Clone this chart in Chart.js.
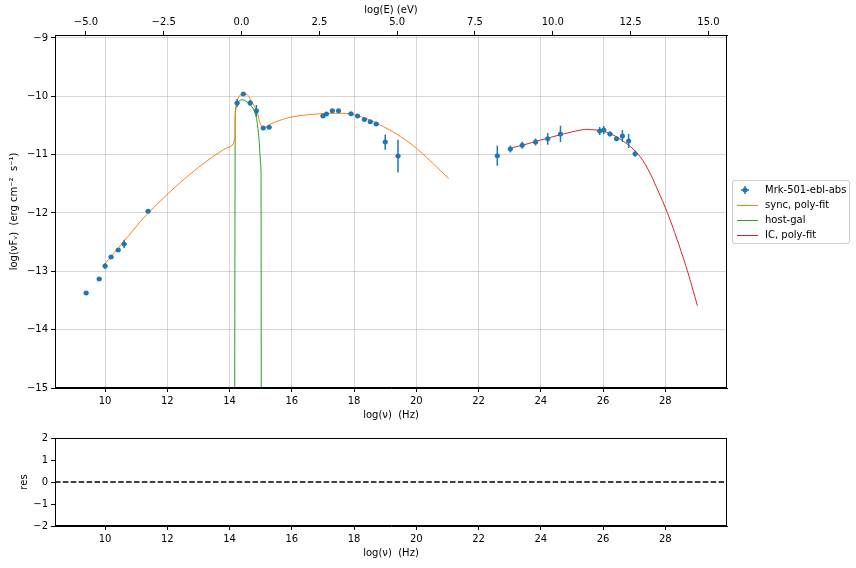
<!DOCTYPE html>
<html>
<head>
<meta charset="utf-8">
<script src="https://cdn.jsdelivr.net/npm/chart.js@4/dist/chart.umd.min.js"></script>
<style>
  body { margin: 0; background: #fff; }
  #wrap { position: relative; width: 856px; height: 568px; font-family: 'DejaVu Sans', sans-serif; }
  #main { position: absolute; left: 0; top: 0; }
  #res { position: absolute; left: 0; top: 421px; }
  #legend {
    position: absolute; left: 732px; top: 180px; width: 116px; height: 62px;
    border: 1px solid #cccccc; border-radius: 3px; background: rgba(255,255,255,0.8);
    font-size: 10px; color: #000;
  }
  .row { position: absolute; left: 3px; height: 14px; line-height: 14px; white-space: nowrap; }
  .row svg { position: absolute; left: 0; top: 0; }
  .row span { position: absolute; left: 29px; top: 0; }
</style>
</head>
<body>
<div id="wrap">
  <canvas id="main" width="856" height="421" style="width:856px;height:421px"></canvas>
  <canvas id="res" width="856" height="147" style="width:856px;height:147px"></canvas>
  <div id="legend"></div>
</div>
<script>
// axis limits
const X_MIN = 8.39;
const X_MAX = 29.98;
const Y_MIN = -15;
const Y_MAX = -8.95;
const LOG_H_EV = 14.383; // log(nu) - 14.383 = log(E/eV)

// tick labels
const xTicks = [10, 12, 14, 16, 18, 20, 22, 24, 26, 28];
const eTicks = [-5, -2.5, 0, 2.5, 5, 7.5, 10, 12.5, 15];
const yTicks = [-15, -14, -13, -12, -11, -10, -9];
const resTicks = [-2, -1, 0, 1, 2];

// observed SED (Mrk-501-ebl-abs)
const nuObs = [9.39, 9.81, 10.0, 10.19, 10.42, 10.61, 11.38, 14.24, 14.44, 14.66, 14.86, 15.08, 15.27,
  17.0, 17.11, 17.3, 17.5, 17.9, 18.11, 18.33, 18.52, 18.71, 19.0, 19.41,
  22.6, 23.02, 23.4, 23.83, 24.22, 24.63, 25.89, 26.02, 26.22, 26.43, 26.62, 26.82, 27.03];
const fluxObs = [-13.37, -13.13, -12.91, -12.755, -12.635, -12.53, -11.97, -10.115, -9.96, -10.115, -10.25, -10.545, -10.53,
  -10.34, -10.305, -10.25, -10.25, -10.3, -10.34, -10.4, -10.435, -10.475, -10.785, -11.025,
  -11.02, -10.905, -10.84, -10.785, -10.73, -10.645, -10.595, -10.58, -10.645, -10.73, -10.68, -10.765, -10.985];
const fluxErr = [0.02, 0.02, 0.05, 0.03, 0.03, 0.07, 0.02, 0.07, 0.03, 0.05, 0.1, 0.03, 0.03,
  0.03, 0.03, 0.03, 0.03, 0.03, 0.03, 0.03, 0.03, 0.03, 0.13, 0.28,
  0.17, 0.06, 0.06, 0.06, 0.1, 0.14, 0.07, 0.07, 0.04, 0.04, 0.1, 0.12, 0.05];
const nuErr = [0.08, 0.08, 0.08, 0.08, 0.08, 0.08, 0.08, 0.08, 0.08, 0.08, 0.08, 0.08, 0.08,
  0.08, 0.08, 0.08, 0.08, 0.08, 0.08, 0.08, 0.08, 0.08, 0.08, 0.08,
  0.08, 0.08, 0.08, 0.08, 0.08, 0.08, 0.08, 0.08, 0.08, 0.08, 0.08, 0.08, 0.08];

// sync, poly-fit
const syncNu = [10.0, 10.6, 11.13, 11.39, 12.04, 12.73, 13.27, 13.8, 14.12, 14.18, 14.24, 14.34, 14.5, 14.66, 14.77,
  14.88, 14.98, 15.09, 15.3, 15.6, 16.0, 16.5, 17.0, 17.4, 17.88, 18.42, 18.94, 19.49, 20.04, 21.04];
const syncFlux = [-12.87, -12.49, -12.15, -12.0, -11.66, -11.335, -11.11, -10.915, -10.81, -10.35, -10.09, -9.98, -9.95, -10.04, -10.15,
  -10.26, -10.46, -10.54, -10.48, -10.415, -10.355, -10.318, -10.298, -10.293, -10.305, -10.39, -10.52, -10.69, -10.91, -11.41];

// host-gal
const hostNu = [14.16, 14.18, 14.25, 14.4, 14.61, 14.8, 14.91, 14.98, 15.01, 15.02];
const hostFlux = [-30, -10.29, -10.12, -10.06, -10.12, -10.26, -10.55, -11.04, -11.35, -30];

// IC, poly-fit
const icNu = [22.99, 23.4, 24.2, 25.27, 25.6, 26.13, 26.67, 27.1, 27.42, 27.74, 28.06, 28.38, 28.7, 29.03];
const icFlux = [-10.89, -10.84, -10.72, -10.58, -10.57, -10.62, -10.78, -10.98, -11.23, -11.59, -11.99, -12.46, -12.98, -13.59];

// residuals (none plotted), zero line only
const resNu = [X_MIN, X_MAX];
const resZero = [0, 0];

const pts = (xs, ys) => xs.map((x, i) => ({ x: x, y: ys[i] }));
const minus = v => String(v).replace('-', '\u2212');

Chart.defaults.font.family = "'DejaVu Sans', sans-serif";
Chart.defaults.font.size = 10;
Chart.defaults.color = '#000';

const gridCol = 'rgba(176,176,176,0.5)';

// error bars for the observed points
const errorBars = {
  id: 'errorBars',
  afterDatasetsDraw(chart) {
    const { ctx, scales: { x, y } } = chart;
    ctx.save();
    ctx.beginPath();
    ctx.rect(chart.chartArea.left, chart.chartArea.top, chart.chartArea.width, chart.chartArea.height);
    ctx.clip();
    ctx.strokeStyle = '#1f77b4';
    ctx.lineWidth = 1.5;
    nuObs.forEach((nu, i) => {
      const px = x.getPixelForValue(nu);
      const py = y.getPixelForValue(fluxObs[i]);
      ctx.beginPath();
      ctx.moveTo(px, y.getPixelForValue(fluxObs[i] - fluxErr[i]));
      ctx.lineTo(px, y.getPixelForValue(fluxObs[i] + fluxErr[i]));
      ctx.moveTo(x.getPixelForValue(nu - nuErr[i]), py);
      ctx.lineTo(x.getPixelForValue(nu + nuErr[i]), py);
      ctx.stroke();
    });
    ctx.restore();
  }
};

// box around the plotting area
const frame = {
  id: 'frame',
  afterDraw(chart) {
    const a = chart.chartArea;
    const ctx = chart.ctx;
    ctx.save();
    ctx.strokeStyle = '#000';
    ctx.lineWidth = 1;
    ctx.strokeRect(Math.round(a.left) + 0.5, Math.round(a.top) + 0.5, Math.round(a.width) - 1, Math.round(a.height) - 1);
    ctx.restore();
  }
};

const mainChart = new Chart(document.getElementById('main'), {
  type: 'scatter',
  data: {
    datasets: [
      {
        label: 'Mrk-501-ebl-abs',
        data: pts(nuObs, fluxObs),
        backgroundColor: '#1f77b4',
        borderColor: '#1f77b4',
        pointRadius: 2.5,
        pointHoverRadius: 2.5,
        borderWidth: 0
      },
      {
        label: 'sync, poly-fit',
        data: pts(syncNu, syncFlux),
        showLine: true,
        borderColor: '#ff7f0e',
        borderWidth: 1,
        pointRadius: 0,
        tension: 0.4
      },
      {
        label: 'host-gal',
        data: pts(hostNu, hostFlux),
        showLine: true,
        borderColor: '#2ca02c',
        borderWidth: 1,
        pointRadius: 0,
        tension: 0.4
      },
      {
        label: 'IC, poly-fit',
        data: pts(icNu, icFlux),
        showLine: true,
        borderColor: '#d62728',
        borderWidth: 1,
        pointRadius: 0,
        tension: 0.4
      }
    ]
  },
  options: {
    responsive: false,
    animation: false,
    devicePixelRatio: 1,
    layout: { padding: { left: 0, right: 129, top: 0, bottom: 0 } },
    plugins: { legend: { display: false }, tooltip: { enabled: false } },
    scales: {
      x: {
        type: 'linear', position: 'bottom', min: X_MIN, max: X_MAX,
        afterBuildTicks: s => { s.ticks = xTicks.map(v => ({ value: v })); },
        afterFit: s => { s.height = 33; },
        ticks: { autoSkip: false, maxRotation: 0, padding: 3, callback: v => minus(v) },
        grid: { color: gridCol, tickColor: '#000', tickLength: 4 },
        border: { color: '#000' },
        title: { display: true, text: 'log(\u03bd)  (Hz)', padding: 0 }
      },
      xTop: {
        type: 'linear', position: 'top', min: X_MIN - LOG_H_EV, max: X_MAX - LOG_H_EV,
        afterBuildTicks: s => { s.ticks = eTicks.map(v => ({ value: v })); },
        afterFit: s => { s.height = 35; },
        ticks: { autoSkip: false, maxRotation: 0, padding: 3, callback: v => minus(v.toFixed(1)) },
        grid: { drawOnChartArea: false, tickColor: '#000', tickLength: 4 },
        border: { color: '#000' },
        title: { display: true, text: 'log(E) (eV)', padding: { top: 4, bottom: 0 } }
      },
      y: {
        type: 'linear', min: Y_MIN, max: Y_MAX,
        afterBuildTicks: s => { s.ticks = yTicks.map(v => ({ value: v })); },
        afterFit: s => { s.width = 55; },
        ticks: { autoSkip: false, padding: 3, callback: v => minus(v) },
        grid: { color: gridCol, tickColor: '#000', tickLength: 4 },
        border: { color: '#000' },
        title: { display: true, text: 'log(\u03bdF\u1d65)  (erg cm\u207b\u00b2  s\u207b\u00b9)', padding: { top: 8, bottom: 0 } }
      }
    }
  },
  plugins: [errorBars, frame]
});

new Chart(document.getElementById('res'), {
  type: 'scatter',
  data: {
    datasets: [{
      label: 'res',
      data: pts(resNu, resZero),
      showLine: true,
      borderColor: '#000',
      borderWidth: 1.5,
      borderDash: [5.5, 2.4],
      pointRadius: 0
    }]
  },
  options: {
    responsive: false,
    animation: false,
    devicePixelRatio: 1,
    layout: { padding: { left: 0, right: 129, top: 17, bottom: 9 } },
    plugins: { legend: { display: false }, tooltip: { enabled: false } },
    scales: {
      x: {
        type: 'linear', min: X_MIN, max: X_MAX,
        afterBuildTicks: s => { s.ticks = xTicks.map(v => ({ value: v })); },
        afterFit: s => { s.height = 33; },
        ticks: { autoSkip: false, maxRotation: 0, padding: 3, callback: v => minus(v) },
        grid: { drawOnChartArea: false, tickColor: '#000', tickLength: 4 },
        border: { color: '#000' },
        title: { display: true, text: 'log(\u03bd)  (Hz)', padding: 0 }
      },
      y: {
        type: 'linear', min: -2, max: 2,
        afterBuildTicks: s => { s.ticks = resTicks.map(v => ({ value: v })); },
        afterFit: s => { s.width = 55; },
        ticks: { autoSkip: false, padding: 3, callback: v => minus(v) },
        grid: { drawOnChartArea: false, tickColor: '#000', tickLength: 4 },
        border: { color: '#000' },
        title: { display: true, text: 'res', padding: { top: 18, bottom: 0 } }
      }
    }
  },
  plugins: [frame]
});

// legend built from the main chart's datasets
const legend = document.getElementById('legend');
mainChart.data.datasets.forEach((ds, i) => {
  const row = document.createElement('div');
  row.className = 'row';
  row.style.top = (2 + i * 15) + 'px';
  let icon;
  if (i === 0) {
    icon = '<svg width="26" height="14"><line x1="9" y1="3" x2="9" y2="11" stroke="' + ds.borderColor + '" stroke-width="1.5"/>' +
      '<line x1="5" y1="7" x2="13" y2="7" stroke="' + ds.borderColor + '" stroke-width="1.5"/>' +
      '<circle cx="9" cy="7" r="2.5" fill="' + ds.borderColor + '"/></svg>';
  } else {
    icon = '<svg width="26" height="14"><line x1="1" y1="7.5" x2="22" y2="7.5" stroke="' + ds.borderColor + '" stroke-width="1"/></svg>';
  }
  row.innerHTML = icon + '<span>' + ds.label + '</span>';
  legend.appendChild(row);
});
</script>
</body>
</html>
